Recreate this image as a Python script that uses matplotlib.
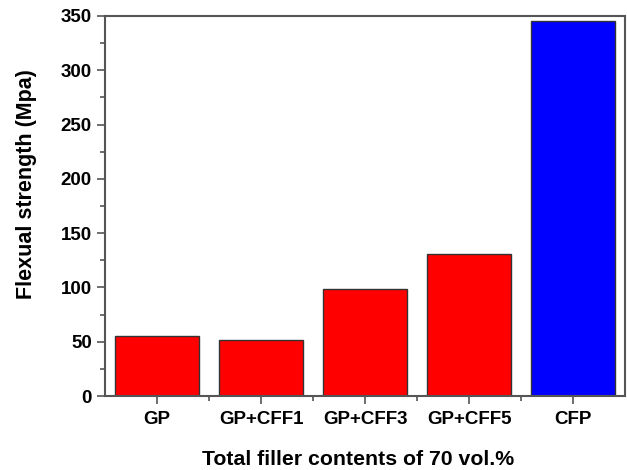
import matplotlib.pyplot as plt
from matplotlib.ticker import MultipleLocator, FixedLocator

plt.rcParams['font.family'] = ['Liberation Sans', 'DejaVu Sans']
plt.rcParams['font.weight'] = 'bold'

samples = ['GP', 'GP+CFF1', 'GP+CFF3', 'GP+CFF5', 'CFP']
strength = [55.3, 51.3, 98.5, 131, 345.4]
colors = ['#ff0000', '#ff0000', '#ff0000', '#ff0000', '#0000ff']

fig = plt.figure(figsize=(6.27, 4.70), dpi=100)
ax = fig.add_axes([0.1675, 0.1574, 0.8293, 0.8086])

x = range(len(samples))
ax.bar(x, strength, width=0.8, color=colors, edgecolor='#333333', linewidth=1)

ax.set_xlim(-0.5, 4.5)
ax.set_ylim(0, 350)
ax.set_xticks(list(x))
ax.set_xticklabels(samples)
ax.xaxis.set_minor_locator(FixedLocator([0.5, 1.5, 2.5, 3.5]))
ax.yaxis.set_major_locator(MultipleLocator(50))
ax.yaxis.set_minor_locator(MultipleLocator(25))

for s in ax.spines.values():
    s.set_color('#555555')
    s.set_linewidth(1.5)
ax.tick_params(which='both', direction='out', color='#555555', width=1.2)
ax.tick_params(which='major', length=6, labelsize=13.5)
ax.tick_params(which='minor', length=3.3)
ax.tick_params(axis='x', which='both', top=False, pad=5)

ax.set_ylabel('Flexual strength (Mpa)', fontsize=15.5, fontweight='bold')
ax.yaxis.set_label_coords(-0.13, 0.558)
ax.set_xlabel('Total filler contents of 70 vol.%', fontsize=15.3, fontweight='bold')
ax.xaxis.set_label_coords(0.487, -0.143)

plt.savefig('out.png', dpi=100)
